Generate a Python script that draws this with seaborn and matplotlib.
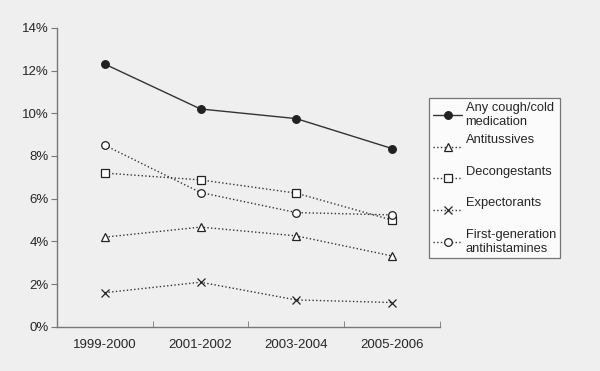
import pandas as pd
import matplotlib
matplotlib.use("Agg")
import matplotlib.pyplot as plt
import seaborn as sns
from matplotlib.ticker import PercentFormatter, FixedLocator

# Daten
years = ["1999-2000", "2001-2002", "2003-2004", "2005-2006"]
any_cough_cold = [12.3, 10.2, 9.75, 8.35]
antitussives = [4.2, 4.67, 4.26, 3.32]
decongestants = [7.2, 6.88, 6.26, 5.0]
expectorants = [1.6, 2.09, 1.26, 1.14]
antihistamines = [8.5, 6.29, 5.35, 5.24]

series_names = ["Any cough/cold\nmedication", "Antitussives\n", "Decongestants\n",
                "Expectorants\n", "First-generation\nantihistamines"]
series_values = [any_cough_cold, antitussives, decongestants, expectorants, antihistamines]

rows = []
for name, vals in zip(series_names, series_values):
    for yr, v in zip(years, vals):
        rows.append({"year": yr, "pct": v, "series": name})
df = pd.DataFrame(rows)

sns.set_style("white")
plt.rcParams["font.family"] = ["Liberation Sans", "DejaVu Sans"]

bg = "#efefef"
fig = plt.figure(figsize=(6, 3.71), dpi=100, facecolor=bg)
ax = fig.add_axes([0.095, 0.119, 0.638, 0.806], facecolor=bg)

styles = {
    series_names[0]: dict(marker="o", ls="-", mfc="#222222"),
    series_names[1]: dict(marker="^", ls=":", mfc="white"),
    series_names[2]: dict(marker="s", ls=":", mfc="white"),
    series_names[3]: dict(marker="x", ls=":", mfc="white"),
    series_names[4]: dict(marker="o", ls=":", mfc="white"),
}

for name in series_names:
    st = styles[name]
    sns.lineplot(data=df[df.series == name], x="year", y="pct", ax=ax,
                 color="#333333", linestyle=st["ls"], linewidth=1.0,
                 marker=st["marker"], markersize=5.5, markerfacecolor=st["mfc"],
                 markeredgecolor="#222222", markeredgewidth=0.9, label=name)

ax.set_xlim(-0.5, 3.5)
ax.set_ylim(0, 14)
ax.set_yticks(range(0, 15, 2))
ax.yaxis.set_major_formatter(PercentFormatter(decimals=0))
ax.set_xlabel("")
ax.set_ylabel("")

for s in ["top", "right"]:
    ax.spines[s].set_visible(False)
for s in ["left", "bottom"]:
    ax.spines[s].set_color("#777777")
    ax.spines[s].set_linewidth(1.0)

ax.tick_params(axis="y", direction="out", length=4, color="#777777",
               labelsize=9.5, left=True, pad=2)
ax.tick_params(axis="x", which="major", length=0, labelsize=9.5, pad=9)
ax.xaxis.set_minor_locator(FixedLocator([0.5, 1.5, 2.5, 3.5]))
ax.tick_params(axis="x", which="minor", direction="in", length=4, color="#777777", bottom=True)

leg = ax.legend(loc="upper left", bbox_to_anchor=(0.705, 0.752),
                bbox_transform=fig.transFigure, frameon=True, fontsize=9.3,
                labelspacing=0.45, handlelength=2.2, handletextpad=0.3,
                borderpad=0.3, fancybox=False)
leg.get_frame().set_edgecolor("#555555")
leg.get_frame().set_facecolor("white")
leg.get_frame().set_linewidth(0.9)

fig.savefig("out.png", dpi=100, facecolor=bg)
